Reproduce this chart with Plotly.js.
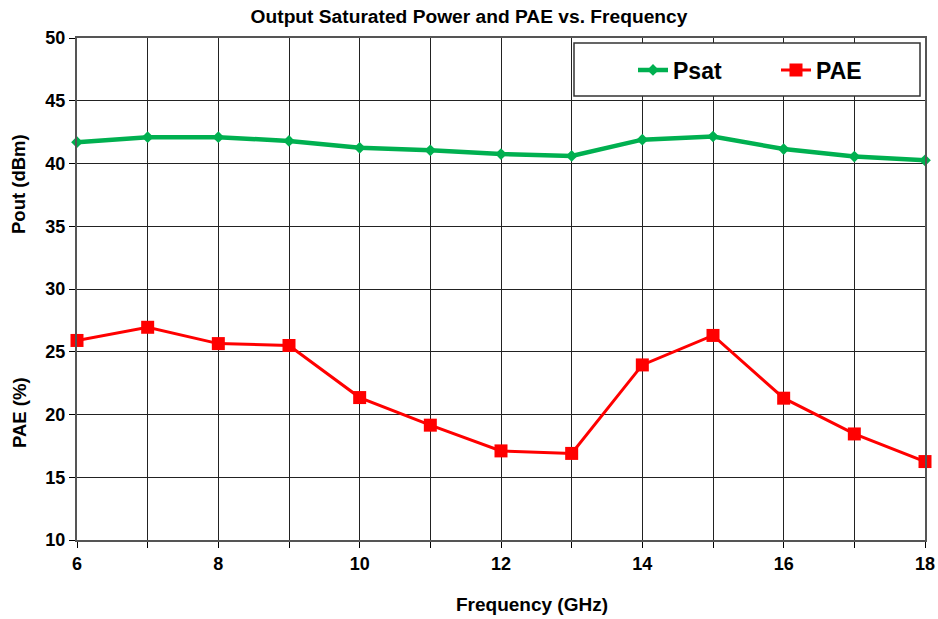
<!DOCTYPE html>
<html><head><meta charset="utf-8">
<script src="https://cdn.plot.ly/plotly-3.0.1.min.js"></script>
<style>body{margin:0;background:#fff}#chart{width:938px;height:619px}</style>
</head><body><div id="chart"></div>
<script>
const freq = [6,7,8,9,10,11,12,13,14,15,16,17,18];
const psat = [41.7,42.1,42.1,41.8,41.25,41.05,40.75,40.6,41.9,42.15,41.15,40.55,40.25];
const pae  = [25.9,26.95,25.65,25.5,21.35,19.15,17.1,16.9,23.95,26.3,21.3,18.45,16.25];
const xTicks = [6,8,10,12,14,16,18];
const yTicks = [10,15,20,25,30,35,40,45,50];

const F = 'Liberation Sans, Arial, sans-serif';
const traces = [
  {x: freq, y: psat, name: 'Psat', mode: 'lines+markers', cliponaxis: false,
   line: {color: '#00b050', width: 4.5}, marker: {symbol: 'diamond', size: 9, color: '#00b050'}},
  {x: freq, y: pae, name: 'PAE', mode: 'lines+markers', cliponaxis: false,
   line: {color: '#ff0000', width: 3}, marker: {symbol: 'square', size: 13, color: '#ff0000'}}
];
const layout = {
  width: 938, height: 619,
  margin: {l: 77, r: 13, t: 38, b: 79, autoexpand: false},
  paper_bgcolor: '#fff', plot_bgcolor: '#fff',
  title: {text: '<b>Output Saturated Power and PAE vs. Frequency</b>', x: 0.5, xanchor: 'center', y: 0.974, yanchor: 'middle',
          font: {family: F, size: 19.2, color: '#000'}},
  xaxis: {range: [6, 18], tickvals: xTicks, ticktext: xTicks.map(v => '<b>' + v + '</b>'), automargin: false,
          ticks: 'outside', ticklen: 6, tickcolor: '#000',
          showgrid: true, gridcolor: '#222', gridwidth: 1,
          minor: {dtick: 1, showgrid: true, gridcolor: '#222', gridwidth: 1, ticks: 'outside', ticklen: 6, tickcolor: '#000'},
          showline: true, linecolor: '#555', linewidth: 2, mirror: true, zeroline: false,
          tickfont: {family: F, size: 18, color: '#000'}},
  yaxis: {range: [10, 50], tickvals: yTicks, ticktext: yTicks.map(v => '<b>' + v + '</b>'), automargin: false,
          ticks: 'outside', ticklen: 6, tickcolor: '#000',
          showgrid: true, gridcolor: '#222', gridwidth: 1,
          showline: true, linecolor: '#555', linewidth: 2, mirror: true, zeroline: false,
          tickfont: {family: F, size: 18, color: '#000'}},
  showlegend: true,
  legend: {orientation: 'h', x: (633 - 77) / 848, xanchor: 'left', y: (540 - 70) / 502, yanchor: 'middle',
           bgcolor: 'rgba(0,0,0,0)', borderwidth: 0, entrywidth: 98, entrywidthmode: 'pixels',
           font: {family: F, size: 23, color: '#000', weight: 'bold'}, itemclick: false},
  shapes: [{type: 'rect', xref: 'paper', yref: 'paper', layer: 'above',
            x0: (574 - 77) / 848, x1: (920 - 77) / 848, y0: (540 - 96) / 502, y1: (540 - 43) / 502,
            line: {color: '#333', width: 1.5}, fillcolor: '#fff'}],
  annotations: [
    {text: '<b>Frequency (GHz)</b>', xref: 'paper', yref: 'paper', x: (532 - 77) / 848, y: (540 - 605) / 502,
     showarrow: false, xanchor: 'center', yanchor: 'middle', font: {family: F, size: 19, color: '#000'}},
    {text: '<b>Pout (dBm)</b>', xref: 'paper', yref: 'paper', x: (19 - 77) / 848, y: (540 - 184) / 502,
     textangle: -90, showarrow: false, xanchor: 'center', yanchor: 'middle', font: {family: F, size: 18.5, color: '#000'}},
    {text: '<b>PAE (%)</b>', xref: 'paper', yref: 'paper', x: (19 - 77) / 848, y: (540 - 413) / 502,
     textangle: -90, showarrow: false, xanchor: 'center', yanchor: 'middle', font: {family: F, size: 18.5, color: '#000'}}
  ]
};
Plotly.newPlot('chart', traces, layout, {displayModeBar: false, staticPlot: true});
</script></body></html>
